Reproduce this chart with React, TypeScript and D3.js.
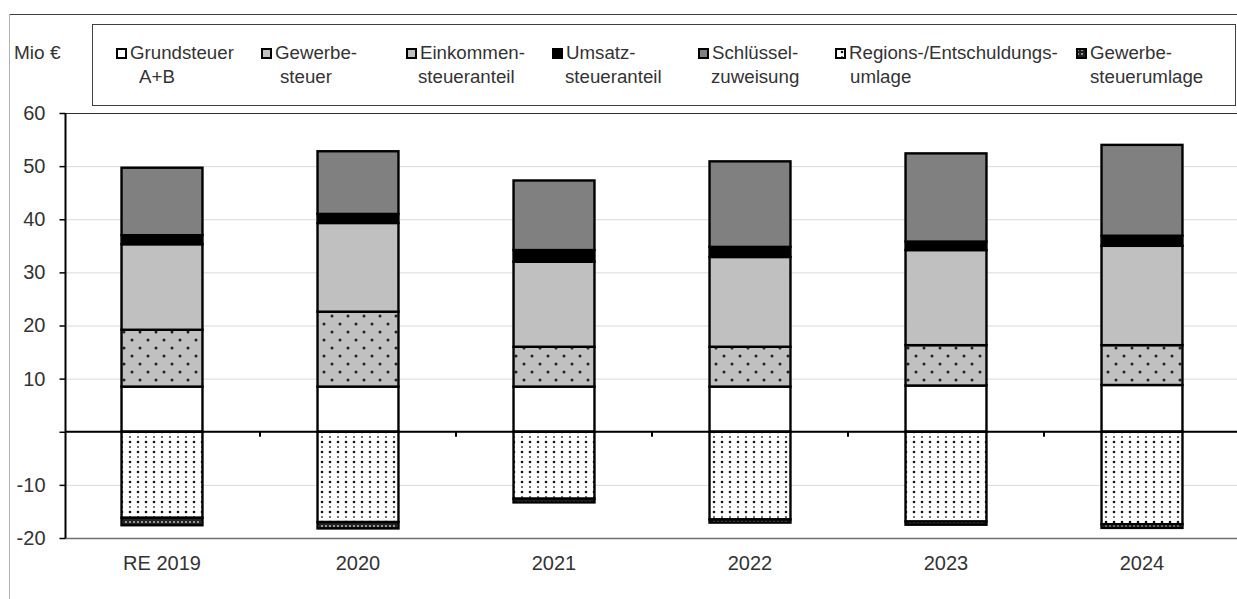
import React, { useEffect, useRef } from 'react';
import * as d3 from 'd3';

const years = ['RE 2019', '2020', '2021', '2022', '2023', '2024'];

const grundsteuer = [8.5, 8.5, 8.5, 8.5, 8.7, 8.8];
const gewerbesteuer = [10.7, 14.1, 7.5, 7.5, 7.6, 7.5];
const einkommensteuer = [16.1, 16.7, 16.0, 16.9, 17.9, 18.7];
const umsatzsteuer = [1.7, 1.7, 2.2, 1.9, 1.6, 1.9];
const schluesselzuweisung = [12.7, 11.8, 13.1, 16.1, 16.6, 17.1];
const regionsumlage = [-16.2, -17.0, -12.6, -16.5, -16.9, -17.4];
const gewerbesteuerumlage = [-1.4, -1.2, -0.7, -0.6, -0.6, -0.7];

const yTicks = [60, 50, 40, 30, 20, 10, 0, -10, -20];
const yTickLabels = ['60', '50', '40', '30', '20', '10', '', '-10', '-20'];

const series = [
  { key: 'grund', values: grundsteuer, fill: '#ffffff', lines: ['Grundsteuer', 'A+B'] },
  { key: 'gew', values: gewerbesteuer, fill: 'url(#gewDots)', lines: ['Gewerbe-', 'steuer'] },
  { key: 'ek', values: einkommensteuer, fill: '#c0c0c0', lines: ['Einkommen-', 'steueranteil'] },
  { key: 'ust', values: umsatzsteuer, fill: '#000000', lines: ['Umsatz-', 'steueranteil'] },
  { key: 'schl', values: schluesselzuweisung, fill: '#808080', lines: ['Schlüssel-', 'zuweisung'] },
  { key: 'reg', values: regionsumlage, fill: 'url(#regDots)', lines: ['Regions-/Entschuldungs-', 'umlage'] },
  { key: 'gewu', values: gewerbesteuerumlage, fill: 'url(#gewuDots)', lines: ['Gewerbe-', 'steuerumlage'] },
];

// legend marker x and indent of the second line
const legendX = [117, 262, 407, 553, 699, 836, 1077];
const legendIndent = [22, 18, 11, 12, 12, 14, 13];

const App = () => {
  const ref = useRef<SVGSVGElement | null>(null);

  useEffect(() => {
    if (!ref.current) return;
    const width = 1237, height = 599;
    const svg = d3.select(ref.current);
    svg.selectAll('*').remove();
    svg.attr('width', width).attr('height', height);

    const font = 'Liberation Sans, Arial, sans-serif';
    const textColor = '#333333';

    const defs = svg.append('defs');
    const p1 = defs.append('pattern').attr('id', 'gewDots').attr('patternUnits', 'userSpaceOnUse')
      .attr('width', 16).attr('height', 16);
    p1.append('rect').attr('width', 16).attr('height', 16).attr('fill', '#c0c0c0');
    p1.append('circle').attr('cx', 4).attr('cy', 4).attr('r', 1.5).attr('fill', '#222');
    p1.append('circle').attr('cx', 12).attr('cy', 12).attr('r', 1.5).attr('fill', '#222');

    const p2 = defs.append('pattern').attr('id', 'regDots').attr('patternUnits', 'userSpaceOnUse')
      .attr('width', 8).attr('height', 10);
    p2.append('rect').attr('width', 8).attr('height', 10).attr('fill', '#ffffff');
    p2.append('circle').attr('cx', 2).attr('cy', 2).attr('r', 1.3).attr('fill', '#111');
    p2.append('circle').attr('cx', 2).attr('cy', 7).attr('r', 1.0).attr('fill', '#444');

    const p3 = defs.append('pattern').attr('id', 'gewuDots').attr('patternUnits', 'userSpaceOnUse')
      .attr('width', 4).attr('height', 4);
    p3.append('rect').attr('width', 4).attr('height', 4).attr('fill', '#222');
    p3.append('circle').attr('cx', 2).attr('cy', 2).attr('r', 0.9).attr('fill', '#ccc');

    // outer frame
    svg.append('line').attr('x1', 9).attr('x2', width).attr('y1', 14.5).attr('y2', 14.5)
      .attr('stroke', '#404040');
    svg.append('line').attr('x1', 9.5).attr('x2', 9.5).attr('y1', 14).attr('y2', height)
      .attr('stroke', '#b0b0b0');

    const x = d3.scaleBand().domain(years).range([64, 1240])
      .paddingInner(0.587).paddingOuter(0.2935);
    const y = d3.scaleLinear().domain([-20, 60]).range([538, 113]);

    // gridlines
    svg.append('g').selectAll('line').data(yTicks).enter().append('line')
      .attr('x1', 65).attr('x2', width)
      .attr('y1', d => y(d) + 0.5).attr('y2', d => y(d) + 0.5)
      .attr('stroke', d => (d === 60 ? '#303030' : d === -20 ? '#707070' : '#d9d9d9'))
      .attr('stroke-width', d => (d === -20 ? 1.5 : 1));

    // stacked bars
    const posSeries = series.filter(s => s.values[0] >= 0);
    const negSeries = series.filter(s => s.values[0] < 0);
    const g = svg.append('g');
    years.forEach((yr, i) => {
      let base = 0;
      posSeries.forEach(s => {
        const v = s.values[i];
        g.append('rect').attr('x', x(yr)!).attr('width', x.bandwidth())
          .attr('y', y(base + v)).attr('height', y(base) - y(base + v))
          .attr('fill', s.fill).attr('stroke', '#000').attr('stroke-width', 2.4);
        base += v;
      });
      let nb = 0;
      negSeries.forEach(s => {
        const v = s.values[i];
        g.append('rect').attr('x', x(yr)!).attr('width', x.bandwidth())
          .attr('y', y(nb)).attr('height', y(nb + v) - y(nb))
          .attr('fill', s.fill).attr('stroke', '#000').attr('stroke-width', 2.4);
        nb += v;
      });
    });

    // zero line with category ticks
    svg.append('line').attr('x1', 65).attr('x2', width).attr('y1', y(0)).attr('y2', y(0))
      .attr('stroke', '#000').attr('stroke-width', 2);
    const step = x.step();
    svg.append('g').selectAll('line').data(years.slice(1)).enter().append('line')
      .attr('x1', d => x(d)! - (step - x.bandwidth()) / 2)
      .attr('x2', d => x(d)! - (step - x.bandwidth()) / 2)
      .attr('y1', y(0)).attr('y2', y(0) + 5)
      .attr('stroke', '#000').attr('stroke-width', 2);

    // y axis
    const yAxis = svg.append('g').attr('transform', 'translate(65.5,0)')
      .call(d3.axisLeft(y).tickValues(yTicks).tickSize(6).tickFormat((d, i) => yTickLabels[i]));
    yAxis.select('.domain').attr('stroke', '#000').attr('stroke-width', 2)
      .attr('d', `M0,${y(60)}V${y(-20)}`);
    yAxis.selectAll('.tick line').attr('stroke', '#000').attr('stroke-width', 1.5);
    yAxis.selectAll('.tick text').attr('x', -20).attr('fill', textColor)
      .style('font-family', font).style('font-size', '20px');

    // x labels
    svg.append('g').selectAll('text').data(years).enter().append('text')
      .attr('x', d => x(d)! + x.bandwidth() / 2).attr('y', 570)
      .attr('text-anchor', 'middle').attr('fill', textColor)
      .style('font-family', font).style('font-size', '20px')
      .text(d => d);

    // unit label
    svg.append('text').attr('x', 14).attr('y', 59).attr('fill', textColor)
      .style('font-family', font).style('font-size', '19px').text('Mio €');

    // legend
    svg.append('rect').attr('x', 92.5).attr('y', 24.5).attr('width', 1143).attr('height', 81)
      .attr('fill', '#fff').attr('stroke', '#404040');
    series.forEach((s, i) => {
      const lx = legendX[i];
      svg.append('rect').attr('x', lx).attr('y', 49).attr('width', 9).attr('height', 9)
        .attr('fill', s.fill).attr('stroke', '#000').attr('stroke-width', 2);
      svg.append('text').attr('x', lx + 13).attr('y', 59).attr('fill', textColor)
        .style('font-family', font).style('font-size', '18.7px').text(s.lines[0]);
      svg.append('text').attr('x', lx + legendIndent[i]).attr('y', 83).attr('fill', textColor)
        .style('font-family', font).style('font-size', '18.7px').text(s.lines[1]);
    });
  }, []);

  return (
    <svg ref={ref} style={{ position: 'absolute', left: 0, top: 0, background: '#fff' }} />
  );
};

export default App;
